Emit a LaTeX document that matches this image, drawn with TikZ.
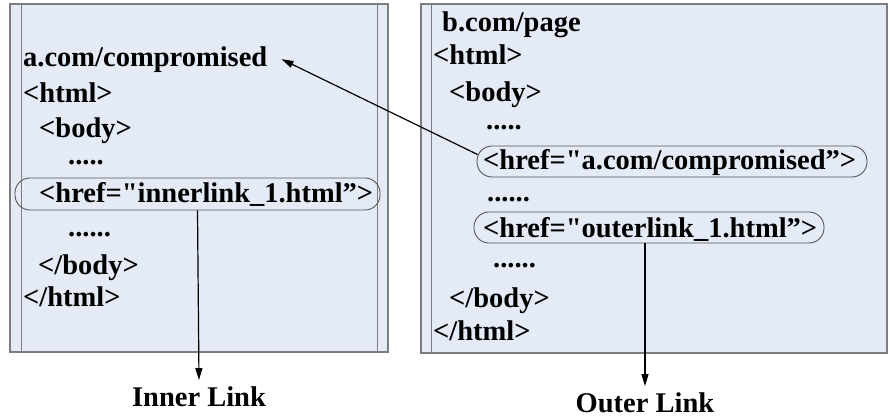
\documentclass[tikz,border=0pt]{standalone}
\usepackage{fontspec}
\setmainfont{Liberation Serif}
\newfontfamily\codefam{Liberation Serif}
\usetikzlibrary{arrows.meta,fit}
\definecolor{pagefill}{RGB}{228,235,246}
\definecolor{pageline}{RGB}{125,125,125}
\definecolor{ovalline}{RGB}{85,85,85}
\newcommand{\codefont}{\codefam\fontsize{28.5}{34}\selectfont\bfseries}
\begin{document}
\begin{tikzpicture}[x=1pt,y=-1pt,
  pagebox/.style={draw=pageline, fill=pagefill, line width=1.4pt},
  pagerule/.style={draw=pageline, line width=1pt},
  src/.style={anchor=base west, inner sep=0pt, font=\codefont},
  linkoval/.style={draw=ovalline, line width=0.9pt, rounded corners=15pt, inner sep=0pt},
  linkarrow/.style={draw=black, line width=1.2pt, -{Triangle[length=12pt,width=7pt]}},
  caption/.style={anchor=base, inner xsep=0pt, inner ysep=6pt, font=\codefont}]
\useasboundingbox (0,0) rectangle (888,419);

% page a.com/compromised
\path[pagebox] (10,4) rectangle (388,352);
\draw[pagerule] (21,4) -- (21,352);
\draw[pagerule] (377,4) -- (377,352);

% page b.com/page
\path[pagebox] (421,4) rectangle (887,353);
\draw[pagerule] (431,4) -- (431,353);

% link ovals
\node[linkoval, fit={(15,178) (380,210)}] (innerov) {};
\node[linkoval, fit={(477,146) (867,177)}] (backov) {};
\node[linkoval, fit={(474,212) (824,243)}] (outerov) {};

% source of a.com/compromised
\node[src] (acom)   at (23,67)  {a.com/compromised};
\node[src] (ahtml)  at (23,103) {<html>};
\node[src] (abody)  at (39,138) {<body>};
\node[src] (adots1) at (68,165) {.....};
\node[src] (ahref)  at (39,203) {<href="innerlink\_1.html”>};
\node[src] (adots2) at (68,237) {......};
\node[src] (abodyc) at (38,275) {</body>};
\node[src] (ahtmlc) at (23,307) {</html>};

% source of b.com/page
\node[src] (bpage)  at (442,32)  {b.com/page};
\node[src] (bhtml)  at (433,65)  {<html>};
\node[src] (bbody)  at (449,102) {<body>};
\node[src] (bdots1) at (486,130) {.....};
\node[src] (bhrefa) at (483,170) {<href="a.com/compromised”>};
\node[src] (bdots2) at (487,202) {......};
\node[src] (bhrefo) at (483,238) {<href="outerlink\_1.html”>};
\node[src] (bdots3) at (493,268) {......};
\node[src] (bbodyc) at (449,308) {</body>};
\node[src] (bhtmlc) at (433,340) {</html>};

% captions
\node[caption] (innerlbl) at (199,406) {Inner Link};
\node[caption] (outerlbl) at (645,412) {Outer Link};

% connectors
\draw[linkarrow] ([xshift=1pt,yshift=7pt]backov.west) -- ([xshift=14pt,yshift=1pt]acom.east);
\draw[linkarrow] (innerov.south) -- (innerlbl.north);
\draw[linkarrow] ([xshift=-4pt]outerov.south) -- ([xshift=-4pt]outerov.south |- outerlbl.north);
\end{tikzpicture}
\end{document}
